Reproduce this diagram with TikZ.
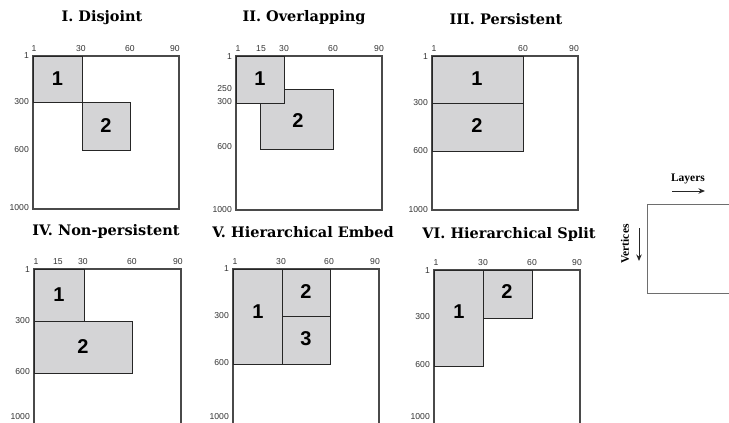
\documentclass[tikz,border=0pt]{standalone}
\usepackage{fontspec}
\setmainfont{Liberation Serif}
\newfontfamily\titlefont{DejaVu Serif}
\newfontfamily\numfont{Liberation Sans}
\newfontfamily\tickfont{Liberation Sans}
\usetikzlibrary{arrows.meta}
\definecolor{blkfill}{HTML}{D4D4D6}
\definecolor{frameclr}{HTML}{4A4A4A}
\definecolor{tickclr}{HTML}{333333}
\tikzset{
  frame/.style={draw=frameclr, line width=1.1pt},
  blk/.style={draw=black!85, fill=blkfill, line width=0.9pt},
  ttl/.style={font=\titlefont\bfseries\fontsize{14.5}{16}\selectfont, inner sep=0pt, anchor=base},
  num/.style={font=\numfont\bfseries\fontsize{20}{22}\selectfont, inner sep=0pt},
  toptick/.style={font=\tickfont\fontsize{8.6}{9}\selectfont, text=tickclr, inner sep=0pt, anchor=south},
  lefttick/.style={font=\tickfont\fontsize{8.6}{9}\selectfont, text=tickclr, inner sep=0pt, anchor=east},
  legtxt/.style={font=\bfseries\fontsize{11.5}{13}\selectfont, inner sep=0pt},
  legarrow/.style={-{Stealth[length=6.5pt,width=5.5pt]}, line width=1pt, draw=black!85},
  legframe/.style={draw=frameclr!80, line width=1pt}
}
\begin{document}
\begin{tikzpicture}[x=1pt,y=-1pt]
\useasboundingbox (0,0) rectangle (729,423);
% ---------- Panel I ----------
\node[ttl] (t1) at (102,21) {I. Disjoint};
\draw[frame] (33,56) rectangle (179,209);
\draw[blk] (33,56) rectangle (82,102);
\draw[blk] (82,102) rectangle (130,150);
\node[num] (p1b1) at (57.5,79) {1};
\node[num] (p1b2) at (106,126) {2};
\node[toptick] (p1x1) at (34,52) {1};
\node[toptick] (p1x30) at (81,52) {30};
\node[toptick] (p1x60) at (130,52) {60};
\node[toptick] (p1x90) at (175,52) {90};
\node[lefttick] (p1y1) at (29,56) {1};
\node[lefttick] (p1y300) at (29,102) {300};
\node[lefttick] (p1y600) at (29,150) {600};
\node[lefttick] (p1y1000) at (29,208) {1000};
% ---------- Panel II ----------
\node[ttl] (t2) at (304,21) {II. Overlapping};
\draw[frame] (236,56) rectangle (382,210);
\draw[blk] (260,89) rectangle (333,149);
\draw[blk] (236,56) rectangle (284,103);
\node[num] (p2b1) at (260,79) {1};
\node[num] (p2b2) at (298,121) {2};
\node[toptick] (p2x1) at (238,52) {1};
\node[toptick] (p2x15) at (261,52) {15};
\node[toptick] (p2x30) at (284,52) {30};
\node[toptick] (p2x60) at (333,52) {60};
\node[toptick] (p2x90) at (379,52) {90};
\node[lefttick] (p2y1) at (232,57) {1};
\node[lefttick] (p2y250) at (232,89) {250};
\node[lefttick] (p2y300) at (232,102) {300};
\node[lefttick] (p2y600) at (232,147) {600};
\node[lefttick] (p2y1000) at (232,210) {1000};
% ---------- Panel III ----------
\node[ttl] (t3) at (506,24) {III. Persistent};
\draw[frame] (432,56) rectangle (578,210);
\draw[blk] (432,56) rectangle (523,103);
\draw[blk] (432,103) rectangle (523,151);
\node[num] (p3b1) at (477,79) {1};
\node[num] (p3b2) at (477,126) {2};
\node[toptick] (p3x1) at (434,52) {1};
\node[toptick] (p3x60) at (523,52) {60};
\node[toptick] (p3x90) at (574,52) {90};
\node[lefttick] (p3y1) at (428,57) {1};
\node[lefttick] (p3y300) at (428,103) {300};
\node[lefttick] (p3y600) at (428,151) {600};
\node[lefttick] (p3y1000) at (428,210) {1000};
% ---------- Panel IV ----------
\node[ttl] (t4) at (106,235) {IV. Non-persistent};
\draw[frame] (34,425) -- (34,269) -- (181,269) -- (181,425);
\draw[blk] (34,269) rectangle (84,321);
\draw[blk] (34,321) rectangle (132,373);
\node[num] (p4b1) at (59,295) {1};
\node[num] (p4b2) at (83,347) {2};
\node[toptick] (p4x1) at (36,265) {1};
\node[toptick] (p4x15) at (58,265) {15};
\node[toptick] (p4x30) at (83,265) {30};
\node[toptick] (p4x60) at (132,265) {60};
\node[toptick] (p4x90) at (178,265) {90};
\node[lefttick] (p4y1) at (30,270) {1};
\node[lefttick] (p4y300) at (30,321) {300};
\node[lefttick] (p4y600) at (30,372) {600};
\node[lefttick] (p4y1000) at (30,417) {1000};
% ---------- Panel V ----------
\node[ttl] (t5) at (303,237) {V. Hierarchical Embed};
\draw[frame] (233,425) -- (233,269) -- (379,269) -- (379,425);
\draw[blk] (233,269) rectangle (282,364);
\draw[blk] (282,269) rectangle (330,316);
\draw[blk] (282,316) rectangle (330,364);
\node[num] (p5b1) at (258,312) {1};
\node[num] (p5b2) at (306,292) {2};
\node[num] (p5b3) at (306,339) {3};
\node[toptick] (p5x1) at (235,265) {1};
\node[toptick] (p5x30) at (281,265) {30};
\node[toptick] (p5x60) at (329,265) {60};
\node[toptick] (p5x90) at (375,265) {90};
\node[lefttick] (p5y1) at (229,269) {1};
\node[lefttick] (p5y300) at (229,316) {300};
\node[lefttick] (p5y600) at (229,363) {600};
\node[lefttick] (p5y1000) at (229,417) {1000};
% ---------- Panel VI ----------
\node[ttl] (t6) at (509,238) {VI. Hierarchical Split};
\draw[frame] (434,425) -- (434,270) -- (580,270) -- (580,425);
\draw[blk] (434,270) rectangle (483,366);
\draw[blk] (483,270) rectangle (532,318);
\node[num] (p6b1) at (459,312) {1};
\node[num] (p6b2) at (507,292) {2};
\node[toptick] (p6x1) at (436,266) {1};
\node[toptick] (p6x30) at (483,266) {30};
\node[toptick] (p6x60) at (532,266) {60};
\node[toptick] (p6x90) at (577,266) {90};
\node[lefttick] (p6y1) at (430,271) {1};
\node[lefttick] (p6y300) at (430,317) {300};
\node[lefttick] (p6y600) at (430,365) {600};
\node[lefttick] (p6y1000) at (430,417) {1000};
% ---------- Legend ----------
\node[legtxt] (lay) at (688,179) {Layers};
\coordinate (la1) at (672,191);
\coordinate (la2) at (705,191);
\draw[legarrow] (la1) -- (la2);
\node[legtxt, rotate=90] (ver) at (625,244) {Vertices};
\coordinate (va1) at (639,228);
\coordinate (va2) at (639,261);
\draw[legarrow] (va1) -- (va2);
\draw[legframe] (730,204) -- (647,204) -- (647,293) -- (730,293);
\end{tikzpicture}
\end{document}
